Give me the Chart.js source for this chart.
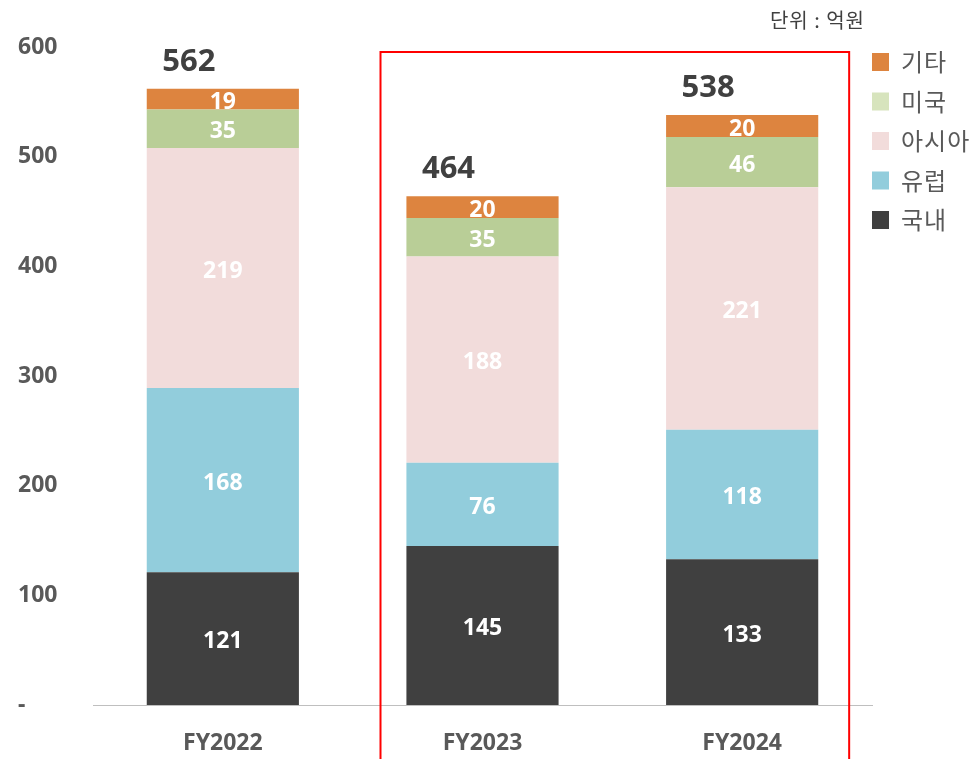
<!DOCTYPE html>
<html>
<head>
<meta charset="utf-8">
<script src="https://cdn.jsdelivr.net/npm/chart.js@4"></script>
<style>
  html, body { margin: 0; padding: 0; background: #fff; }
  #wrap { position: relative; width: 974px; height: 759px; }
</style>
</head>
<body>
<div id="wrap"><canvas id="c" width="974" height="759"></canvas></div>
<script>
/* 지역별 매출 (단위: 억원) — stacked by region, FY2023/24 boxed */
const YEARS = ["FY2022", "FY2023", "FY2024"];
const DOMESTIC = [121, 145, 133];   // 국내
const EUROPE   = [168, 76, 118];    // 유럽
const ASIA     = [219, 188, 221];   // 아시아
const USA      = [35, 35, 46];      // 미국
const OTHER    = [19, 20, 20];      // 기타
const Y_TICKS  = [0, 100, 200, 300, 400, 500, 600];

const FONT = "'Noto Sans', 'Noto Sans CJK KR', sans-serif";
const KFONT = "'Noto Sans CJK KR', 'Noto Sans', sans-serif";

const series = [
  { label: "국내", data: DOMESTIC, color: "#404040", key: "#404040" },
  { label: "유럽", data: EUROPE, color: "#92cddc", key: "#92cddc" },
  { label: "아시아", data: ASIA, color: "#f2dcdb", key: "#f2dcdb" },
  { label: "미국", data: USA, color: "#b9ce97", key: "#d7e4bd" },
  { label: "기타", data: OTHER, color: "#dd843f", key: "#dd843f" },
];

// values in each segment + the total above the bar
const labelsPlugin = {
  id: "labels",
  afterDatasetsDraw(chart) {
    const ctx = chart.ctx;
    ctx.save();
    ctx.textAlign = "center";
    ctx.textBaseline = "middle";
    ctx.font = "bold 23px " + FONT;
    ctx.fillStyle = "#fff";
    chart.data.datasets.forEach((ds, i) => {
      chart.getDatasetMeta(i).data.forEach((bar, j) => {
        const mid = (bar.y + bar.base) / 2;
        ctx.fillText(String(ds.data[j]), bar.x, mid + 3);
      });
    });
    ctx.font = "bold 31px " + FONT;
    ctx.fillStyle = "#404040";
    const last = chart.getDatasetMeta(chart.data.datasets.length - 1).data;
    YEARS.forEach((_, j) => {
      const tot = series.reduce((s, x) => s + x.data[j], 0);
      ctx.fillText(String(tot), last[j].x - 34, last[j].y - 27);
    });
    ctx.restore();
  },
};

// legend (top item = 기타), unit note, and the red box around FY2023–FY2024
const extrasPlugin = {
  id: "extras",
  afterDraw(chart) {
    const ctx = chart.ctx, x = chart.scales.x, y = chart.scales.y;
    ctx.save();
    const items = series.slice().reverse();
    ctx.font = "24px " + KFONT;
    ctx.letterSpacing = "1px";
    ctx.textBaseline = "middle";
    ctx.textAlign = "left";
    items.forEach((s, i) => {
      const cy = 62 + i * 39.5;
      ctx.fillStyle = s.key;
      ctx.fillRect(872, cy - 9, 17, 18);
      ctx.fillStyle = "#595959";
      ctx.fillText(s.label, 901, cy);
    });
    ctx.font = "20px " + KFONT;
    ctx.letterSpacing = "1px";
    ctx.fillStyle = "#404040";
    ctx.textAlign = "right";
    ctx.fillText("단위 : 억원", 865, 20);
    ctx.letterSpacing = "0px";

    ctx.strokeStyle = "#ff0000";
    ctx.lineWidth = 2;
    const l = x.getPixelForValue(1) - 102, r = x.getPixelForValue(2) + 107;
    const t = y.getPixelForValue(600) + 5;
    ctx.beginPath();
    ctx.moveTo(l, chart.height + 5);
    ctx.lineTo(l, t);
    ctx.lineTo(r, t);
    ctx.lineTo(r, chart.height + 5);
    ctx.stroke();
    ctx.restore();
  },
};

new Chart(document.getElementById("c"), {
  type: "bar",
  data: {
    labels: YEARS,
    datasets: series.map(s => ({
      label: s.label, data: s.data, backgroundColor: s.color,
      borderWidth: 0, barPercentage: 1, categoryPercentage: 0.586,
    })),
  },
  options: {
    responsive: false, animation: false,
    layout: { padding: { left: 18, right: 102, top: 47, bottom: 0 } },
    plugins: { legend: { display: false }, tooltip: { enabled: false } },
    scales: {
      x: {
        stacked: true,
        grid: { display: false },
        border: { color: "#bfbfbf", width: 1 },
        ticks: { color: "#595959", font: { family: FONT, size: 23, weight: "bold" }, padding: 17 },
        afterFit: s => { s.height = 54; },
      },
      y: {
        stacked: true, min: 0, max: 600,
        grid: { display: false },
        border: { display: false },
        afterBuildTicks: s => { s.ticks = Y_TICKS.map(v => ({ value: v })); },
        ticks: {
          color: "#595959", crossAlign: "far",
          font: { family: FONT, size: 23, weight: "bold" },
          callback: v => v === 0 ? "-" : v,
        },
        afterFit: s => { s.width = 75; },
      },
    },
  },
  plugins: [labelsPlugin, extrasPlugin],
});
</script>
</body>
</html>
